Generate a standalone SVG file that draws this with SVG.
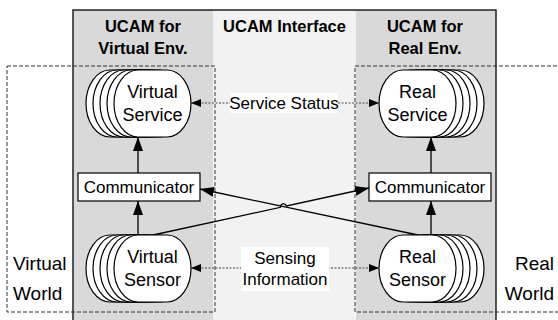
<svg xmlns="http://www.w3.org/2000/svg" width="558" height="320" viewBox="0 0 558 320">
  <defs>
    <style>
      .txt { font-family: "Liberation Sans", Arial, sans-serif; fill: #000; }
      .hdr { font-size: 16.5px; font-weight: bold; text-anchor: middle; }
      .lbl { font-size: 17px; text-anchor: middle; }
      .node { font-size: 18px; text-anchor: middle; }
      .world { font-size: 19px; }
      .blob { fill: #fff; stroke: #000; stroke-width: 1.2; }
      .box { fill: #fff; stroke: #000; stroke-width: 1.2; }
      .zone { fill: none; stroke: #333; stroke-width: 1; stroke-dasharray: 4 2; }
      .flow { fill: none; stroke: #000; stroke-width: 1.3; marker-end: url(#head); }
      .status { fill: none; stroke: #444; stroke-width: 1.2; stroke-dasharray: 2 1.5; marker-start: url(#dotHeadStart); marker-end: url(#dotHead); }
    </style>
    <marker id="head" markerUnits="userSpaceOnUse" markerWidth="14" markerHeight="10" refX="14" refY="5" orient="auto">
      <path d="M0,0 L14,5 L0,10 z" fill="#000"/>
    </marker>
    <marker id="dotHead" markerUnits="userSpaceOnUse" markerWidth="10" markerHeight="8" refX="10" refY="4" orient="auto">
      <path d="M0,0 L10,4 L0,8 z" fill="#000"/>
    </marker>
    <marker id="dotHeadStart" markerUnits="userSpaceOnUse" markerWidth="10" markerHeight="8" refX="0" refY="4" orient="auto">
      <path d="M10,0 L0,4 L10,8 z" fill="#000"/>
    </marker>
    <rect id="shape" width="77" height="67" rx="24" ry="33.5"/>
  </defs>

  <rect width="558" height="320" fill="#fff"/>

  <!-- architecture frame: two environment columns and the interface column -->
  <g id="frame">
    <rect x="73" y="10" width="140" height="312" fill="#d9d9d9"/>
    <rect x="213" y="10" width="143" height="312" fill="#f2f2f2"/>
    <rect x="356" y="10" width="140" height="312" fill="#d9d9d9"/>
    <rect x="73" y="10" width="423" height="312" fill="none" stroke="#222" stroke-width="1.5"/>
    <text class="txt hdr" x="143" y="31.5">UCAM for</text>
    <text class="txt hdr" x="143" y="54">Virtual Env.</text>
    <text class="txt hdr" x="284.5" y="31.5">UCAM Interface</text>
    <text class="txt hdr" x="425" y="31.5">UCAM for</text>
    <text class="txt hdr" x="425" y="54">Real Env.</text>
  </g>

  <!-- world boundaries -->
  <g id="virtual-world">
    <rect class="zone" x="7" y="66" width="208" height="246"/>
    <text class="txt world" x="13" y="270">Virtual</text>
    <text class="txt world" x="13" y="300">World</text>
  </g>
  <g id="real-world">
    <rect class="zone" x="355" y="66" width="210" height="246"/>
    <text class="txt world" x="554" y="270" text-anchor="end">Real</text>
    <text class="txt world" x="554" y="300" text-anchor="end">World</text>
  </g>

  <g id="connectors">
    <line class="flow" x1="138" y1="173" x2="138" y2="137"/>
    <line class="flow" x1="138" y1="235" x2="138" y2="201"/>
    <line class="flow" x1="431" y1="173" x2="431" y2="137"/>
    <line class="flow" x1="431" y1="235" x2="431" y2="201"/>
    <line class="flow" x1="418" y1="235" x2="200" y2="189"/>
    <path class="flow" d="M153,235 L280.5,207.3 A3.1,3.1 0 0 1 286.5,205.95 L369,188"/>
    <line class="status" x1="191" y1="103" x2="379" y2="103"/>
    <line class="status" x1="191" y1="268" x2="379" y2="268"/>
  </g>

  <g id="service-status">
    <rect x="230" y="93" width="108" height="20" fill="#fff"/>
    <text class="txt lbl" x="284" y="109">Service Status</text>
  </g>
  <g id="sensing-information">
    <rect x="241" y="247" width="88" height="44" fill="#fff"/>
    <text class="txt lbl" x="285" y="264">Sensing</text>
    <text class="txt lbl" x="285" y="285">Information</text>
  </g>

  <g id="virtual-service">
    <use href="#shape" class="blob" x="86" y="70"/>
    <use href="#shape" class="blob" x="93" y="70"/>
    <use href="#shape" class="blob" x="100" y="70"/>
    <use href="#shape" class="blob" x="107" y="70"/>
    <use href="#shape" class="blob" x="114" y="70"/>
    <text class="txt node" x="152.5" y="97.5">Virtual</text>
    <text class="txt node" x="152.5" y="120.5">Service</text>
  </g>

  <g id="real-service">
    <use href="#shape" class="blob" x="407" y="70"/>
    <use href="#shape" class="blob" x="400" y="70"/>
    <use href="#shape" class="blob" x="393" y="70"/>
    <use href="#shape" class="blob" x="386" y="70"/>
    <use href="#shape" class="blob" x="379" y="70"/>
    <text class="txt node" x="417.5" y="97.5">Real</text>
    <text class="txt node" x="417.5" y="120.5">Service</text>
  </g>

  <g id="virtual-sensor">
    <use href="#shape" class="blob" x="86" y="235"/>
    <use href="#shape" class="blob" x="93" y="235"/>
    <use href="#shape" class="blob" x="100" y="235"/>
    <use href="#shape" class="blob" x="107" y="235"/>
    <use href="#shape" class="blob" x="114" y="235"/>
    <text class="txt node" x="152.5" y="263">Virtual</text>
    <text class="txt node" x="152.5" y="286">Sensor</text>
  </g>

  <g id="real-sensor">
    <use href="#shape" class="blob" x="407" y="235"/>
    <use href="#shape" class="blob" x="400" y="235"/>
    <use href="#shape" class="blob" x="393" y="235"/>
    <use href="#shape" class="blob" x="386" y="235"/>
    <use href="#shape" class="blob" x="379" y="235"/>
    <text class="txt node" x="417.5" y="263">Real</text>
    <text class="txt node" x="417.5" y="286">Sensor</text>
  </g>

  <g id="virtual-communicator">
    <rect class="box" x="78" y="173" width="122" height="28"/>
    <text class="txt lbl" x="139" y="193">Communicator</text>
  </g>

  <g id="real-communicator">
    <rect class="box" x="369" y="173" width="122" height="28"/>
    <text class="txt lbl" x="430" y="193">Communicator</text>
  </g>
</svg>
